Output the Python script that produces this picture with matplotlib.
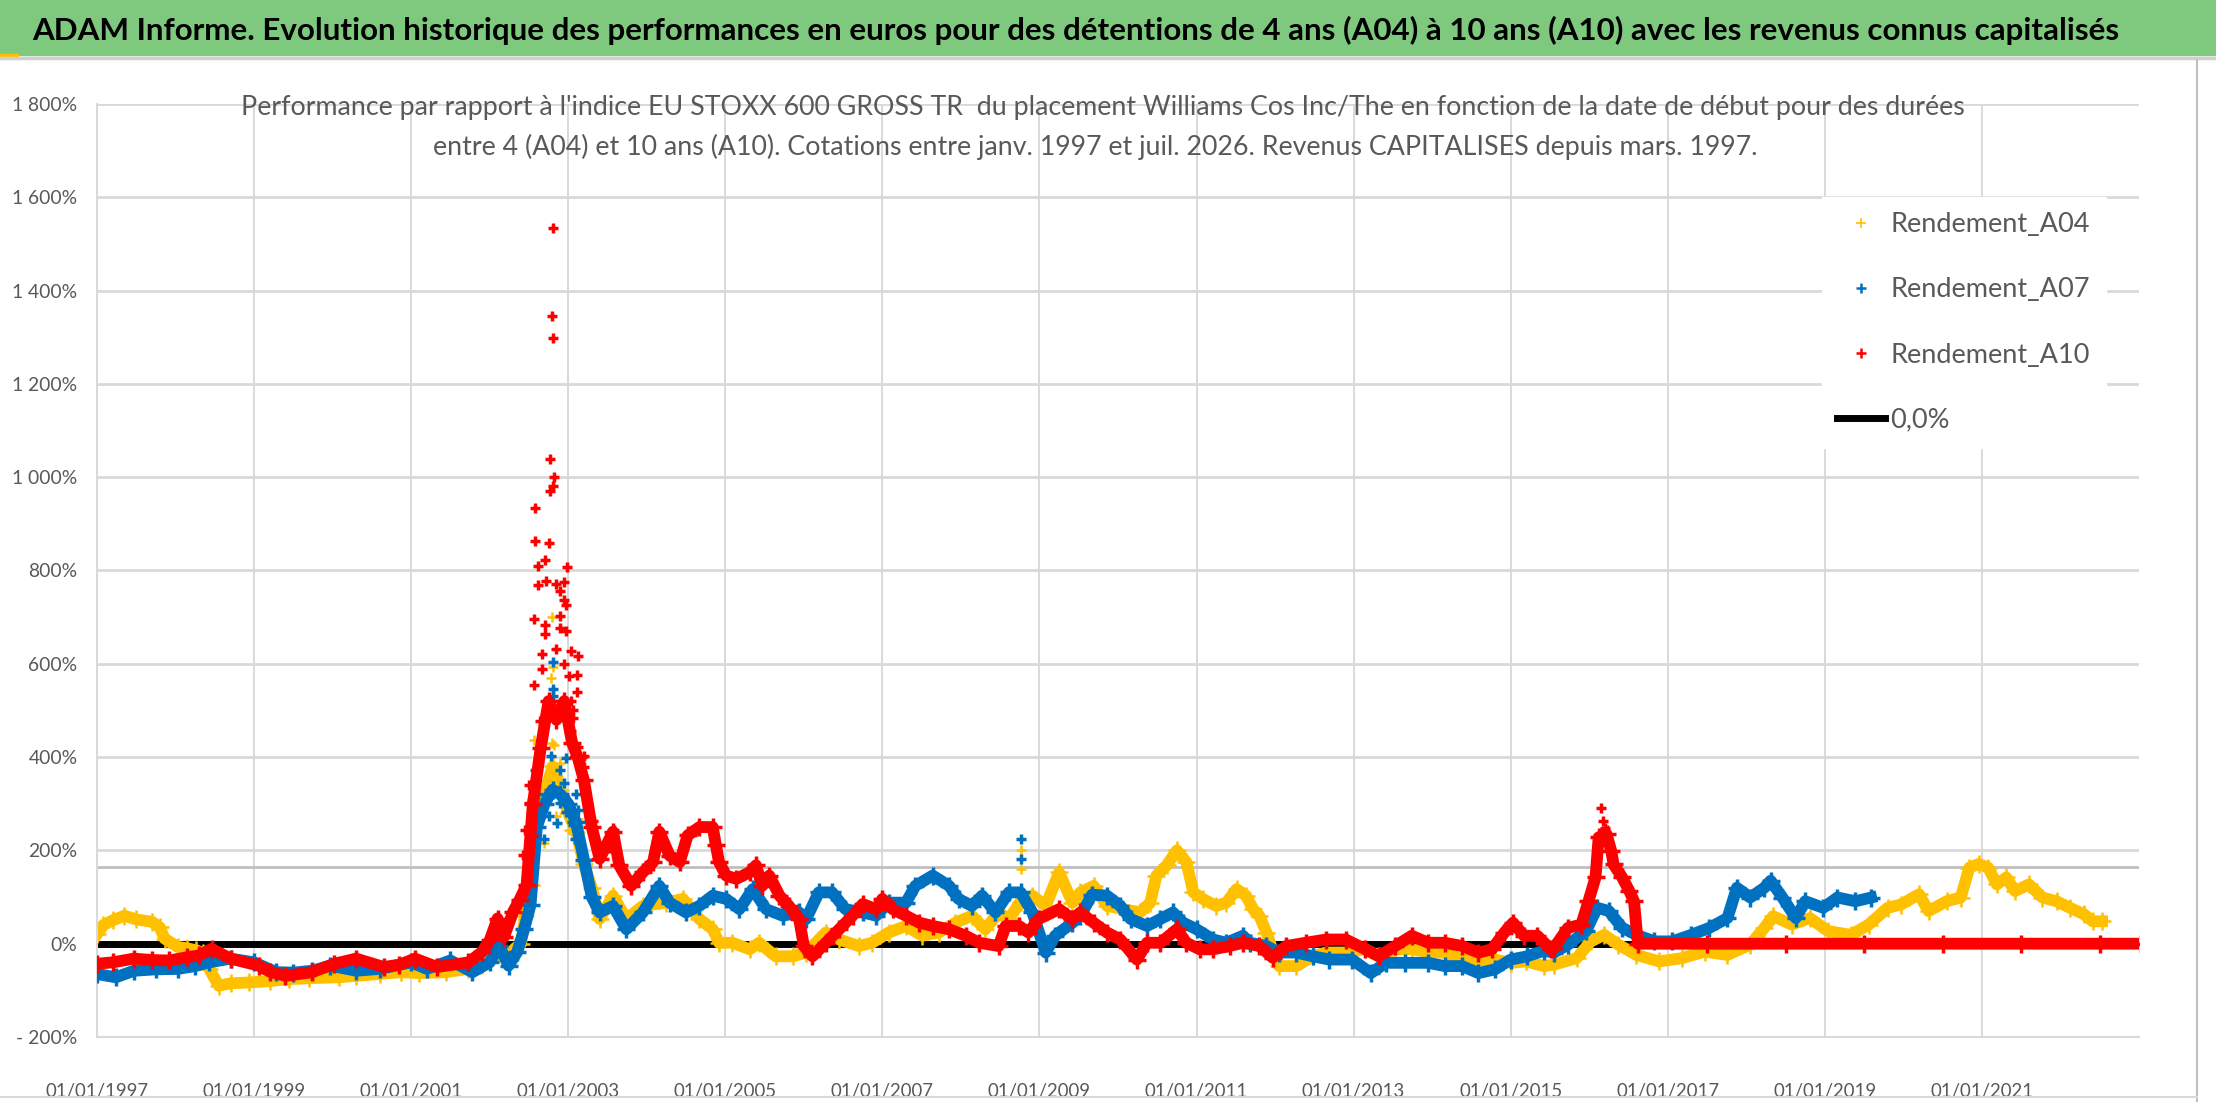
import matplotlib
matplotlib.use("Agg")
import matplotlib.pyplot as plt
from matplotlib.lines import Line2D
from matplotlib.patches import Rectangle
from matplotlib import font_manager

# ---- data (decimal years, % performance) ----
a04_t = [1997.00, 1997.08, 1997.20, 1997.35, 1997.50, 1997.70, 1997.80, 1997.86, 1998.03, 1998.15,
         1998.26, 1998.35, 1998.43, 1998.55, 1998.70, 1998.94, 1999.20, 1999.45, 1999.70, 2000.08,
         2000.30, 2000.60, 2000.87, 2001.10, 2001.44, 2001.73, 2001.90, 2002.00, 2002.12, 2002.24,
         2002.32, 2002.40, 2002.45, 2002.52, 2002.60, 2002.70, 2002.80, 2002.90, 2003.00, 2003.10,
         2003.20, 2003.30, 2003.40, 2003.57, 2003.74, 2003.95, 2004.25, 2004.46, 2004.67, 2004.84,
         2004.92, 2005.09, 2005.31, 2005.43, 2005.64, 2005.86, 2006.03, 2006.28, 2006.45, 2006.70,
         2006.87, 2007.08, 2007.30, 2007.51, 2007.72, 2007.93, 2008.14, 2008.31, 2008.48, 2008.61,
         2008.76, 2008.91, 2009.08, 2009.25, 2009.42, 2009.52, 2009.69, 2009.86, 2010.07, 2010.28,
         2010.41, 2010.49, 2010.62, 2010.75, 2010.87, 2010.96, 2011.08, 2011.25, 2011.38, 2011.51,
         2011.63, 2011.72, 2011.80, 2011.89, 2011.95, 2012.05, 2012.27, 2012.48, 2012.65, 2012.90,
         2013.15, 2013.32, 2013.53, 2013.74, 2013.99, 2014.16, 2014.38, 2014.59, 2014.80, 2015.00,
         2015.20, 2015.42, 2015.55, 2015.84, 2016.02, 2016.19, 2016.37, 2016.60, 2016.89, 2017.18,
         2017.47, 2017.76, 2018.05, 2018.23, 2018.34, 2018.58, 2018.81, 2019.04, 2019.33, 2019.56,
         2019.80, 2019.97, 2020.20, 2020.32, 2020.55, 2020.73, 2020.84, 2020.96, 2021.08, 2021.19,
         2021.31, 2021.42, 2021.60, 2021.77, 2021.95, 2022.12, 2022.30, 2022.41, 2022.53]
a04_v = [20, 40, 50, 60, 52, 47, 35, 11, -7, -10,
         -14, -20, -54, -90, -85, -83, -80, -76, -74, -72,
         -69, -65, -61, -63, -61, -54, -45, -32, -20, -25,
         -10, 0, 60, 126, 300, 320, 380, 330, 280, 240,
         170, 120, 53, 103, 53, 81, 88, 96, 53, 31,
         2, 2, -12, 2, -27, -27, -19, 24, 9, -5,
         2, 24, 38, 17, 24, 45, 60, 31, 67, 53,
         90, 103, 81, 153, 88, 110, 124, 81, 74, 67,
         88, 146, 168, 200, 175, 110, 96, 81, 88, 117,
         103, 74, 60, 24, -5, -48, -48, -27, -19, -19,
         -12, -27, -12, -12, -19, -19, -34, -37, -34, -41,
         -38, -48, -45, -31, 5, 19, -2, -24, -38, -31,
         -17, -24, -2, 34, 59, 41, 55, 27, 19, 41,
         77, 84, 106, 70, 91, 99, 163, 171, 163, 127,
         142, 113, 127, 99, 91, 77, 63, 48, 48]

a07_t = [1997.00, 1997.24, 1997.47, 1997.75, 1998.03, 1998.25, 1998.43, 1998.70, 1999.00, 1999.28,
         1999.50, 1999.74, 1999.97, 2000.30, 2000.60, 2001.00, 2001.20, 2001.50, 2001.78, 2002.00,
         2002.12, 2002.24, 2002.35, 2002.44, 2002.52, 2002.60, 2002.70, 2002.80, 2002.90, 2003.00,
         2003.10, 2003.20, 2003.30, 2003.40, 2003.57, 2003.74, 2003.95, 2004.16, 2004.29, 2004.50,
         2004.67, 2004.84, 2005.01, 2005.18, 2005.35, 2005.52, 2005.73, 2005.94, 2006.03, 2006.19,
         2006.36, 2006.53, 2006.75, 2006.92, 2007.08, 2007.30, 2007.42, 2007.64, 2007.85, 2007.97,
         2008.14, 2008.27, 2008.44, 2008.61, 2008.76, 2008.91, 2009.08, 2009.20, 2009.42, 2009.52,
         2009.67, 2009.86, 2010.03, 2010.16, 2010.37, 2010.54, 2010.70, 2010.83, 2011.00, 2011.21,
         2011.38, 2011.59, 2011.68, 2011.89, 2012.05, 2012.27, 2012.48, 2012.69, 2012.98, 2013.22,
         2013.41, 2013.66, 2013.95, 2014.16, 2014.38, 2014.59, 2014.80, 2015.00, 2015.21, 2015.42,
         2015.55, 2015.73, 2015.96, 2016.10, 2016.25, 2016.42, 2016.60, 2016.83, 2017.06, 2017.30,
         2017.53, 2017.76, 2017.88, 2018.05, 2018.23, 2018.31, 2018.46, 2018.63, 2018.75, 2018.98,
         2019.16, 2019.39, 2019.59]
a07_v = [-65, -72, -58, -55, -54, -48, -40, -32, -40, -61,
         -62, -58, -47, -58, -54, -40, -54, -36, -61, -40,
         -4, -47, -18, 32, 83, 250, 300, 330, 320, 300,
         260, 180, 100, 67, 81, 31, 67, 124, 88, 67,
         81, 103, 96, 74, 117, 74, 60, 67, 53, 110,
         110, 74, 67, 60, 88, 88, 124, 146, 124, 96,
         81, 103, 67, 110, 110, 67, -19, 17, 45, 60,
         105, 103, 81, 53, 38, 53, 67, 45, 31, 9,
         2, 17, 2, -5, -19, -19, -27, -34, -34, -63,
         -41, -41, -41, -48, -48, -63, -55, -34, -27, -15,
         -19, -2, 27, 77, 70, 34, 19, 5, 5, 19,
         34, 55, 120, 99, 120, 135, 99, 55, 91, 77,
         99, 91, 99]

a10_t = [1997.00, 1997.20, 1997.47, 1997.70, 1997.92, 1998.15, 1998.30, 1998.46, 1998.70, 1999.06,
         1999.20, 1999.40, 1999.74, 2000.02, 2000.30, 2000.65, 2000.85, 2001.05, 2001.33, 2001.73,
         2001.90, 2002.00, 2002.10, 2002.18, 2002.30, 2002.38, 2002.47, 2002.55, 2002.65, 2002.75,
         2002.85, 2002.95, 2003.05, 2003.12, 2003.20, 2003.30, 2003.40, 2003.57, 2003.65, 2003.80,
         2003.95, 2004.08, 2004.16, 2004.29, 2004.42, 2004.52, 2004.67, 2004.84, 2004.88, 2004.92,
         2005.01, 2005.14, 2005.31, 2005.39, 2005.47, 2005.56, 2005.69, 2005.81, 2005.94, 2006.00,
         2006.11, 2006.28, 2006.45, 2006.62, 2006.75, 2006.92, 2007.00, 2007.13, 2007.30, 2007.47,
         2007.64, 2007.85, 2008.06, 2008.23, 2008.48, 2008.57, 2008.74, 2008.86, 2008.99, 2009.25,
         2009.42, 2009.52, 2009.69, 2009.86, 2010.03, 2010.24, 2010.37, 2010.54, 2010.75, 2010.87,
         2011.04, 2011.21, 2011.42, 2011.59, 2011.80, 2011.97, 2012.14, 2012.39, 2012.65, 2012.90,
         2013.15, 2013.32, 2013.53, 2013.74, 2013.95, 2014.16, 2014.38, 2014.59, 2014.76, 2014.92,
         2015.03, 2015.17, 2015.34, 2015.51, 2015.55, 2015.73, 2015.90, 2015.99, 2016.08, 2016.12,
         2016.22, 2016.28, 2016.31, 2016.42, 2016.51, 2016.57, 2016.62, 2017.50, 2018.50, 2019.50,
         2020.50, 2021.50, 2022.50, 2023.02]
a10_v = [-43, -40, -32, -35, -36, -29, -25, -11, -32, -47,
         -60, -69, -61, -43, -32, -50, -45, -32, -50, -40,
         -18, 7, 54, 14, 69, 94, 126, 300, 420, 520,
         480, 520, 430, 400, 350, 250, 182, 240, 168, 124,
         153, 175, 240, 189, 175, 232, 250, 250, 211, 175,
         146, 139, 153, 168, 124, 146, 103, 81, 53, -5,
         -27, 2, 31, 60, 85, 74, 96, 74, 60, 45,
         38, 31, 17, 2, -5, 38, 38, 24, 53, 74,
         53, 67, 45, 24, 9, -34, 2, 2, 31, 2,
         -12, -12, -5, 2, -5, -30, -5, 2, 9, 9,
         -12, -27, -5, 17, 2, 2, -5, -19, -12, 24,
         45, 17, 17, -12, -9, 34, 41, 91, 142, 228,
         235, 199, 170, 142, 113, 91, 0, 0, 0, 0,
         0, 0, 0, 0]

# scattered points around the 2002-2003 spike and other isolated outliers
a04_out_t = [2002.79, 2002.80, 2002.78, 2002.57, 2002.79, 2002.82, 2002.61, 2002.89, 2002.72, 2002.87,
             2002.65, 2002.84, 2003.12, 2003.01, 2002.69, 2008.76, 2008.76]
a04_out_v = [701, 593, 569, 437, 430, 426, 397, 387, 349, 359,
             282, 273, 268, 244, 215, 200, 160]
a07_out_t = [2002.80, 2002.80, 2002.80, 2002.78, 2002.97, 2002.58, 2002.89, 2002.61, 2002.74, 2002.95,
             2002.89, 2003.10, 2003.12, 2002.64, 2002.76, 2002.97, 2002.86, 2003.06, 2002.69, 2003.08,
             2002.59, 2008.76, 2008.76]
a07_out_v = [603, 545, 531, 402, 397, 373, 373, 320, 320, 344,
             302, 320, 287, 273, 273, 282, 258, 254, 225, 225,
             244, 225, 182]
a10_out_t = [2002.80, 2002.79, 2002.81, 2002.77, 2002.82, 2002.80, 2002.77, 2002.58, 2002.58, 2002.76,
             2002.71, 2002.61, 2002.98, 2002.62, 2002.72, 2002.85, 2002.95, 2002.89, 2002.95, 2002.97,
             2002.57, 2002.89, 2002.70, 2002.89, 2002.97, 2002.71, 2002.84, 2002.67, 2003.03, 2003.12,
             2002.66, 2002.95, 2003.01, 2003.11, 2002.57, 2003.11, 2003.03, 2003.06, 2003.06, 2002.64,
             2003.04, 2003.08, 2003.13, 2003.20, 2003.20, 2003.20, 2003.23, 2002.50, 2002.50, 2002.52,
             2002.45, 2002.55, 2003.31, 2003.33, 2003.58, 2003.52, 2002.42, 2016.15, 2016.18, 2016.20]
a10_out_v = [1534, 1346, 1298, 1040, 1000, 981, 970, 933, 864, 858,
             823, 809, 807, 768, 778, 770, 775, 756, 737, 727,
             696, 703, 684, 676, 670, 663, 631, 622, 627, 617,
             588, 600, 574, 577, 555, 539, 521, 502, 483, 478,
             456, 426, 421, 402, 378, 349, 320, 340, 302, 273,
             244, 230, 263, 225, 244, 206, 191, 290, 262, 248]

ref_level = 164  # grey horizontal reference line
years = list(range(1997, 2023, 2))
tick_labels = ["01/01/%d" % y for y in years]
y_ticks = list(range(-200, 1801, 200))
y_labels = ["- 200%", "0%", "200%", "400%", "600%", "800%", "1 000%",
            "1 200%", "1 400%", "1 600%", "1 800%"]
labels = ["Rendement_A04", "Rendement_A07", "Rendement_A10", "0,0%"]
colors = ["#FFC000", "#0070C0", "#FF0000"]

title = ("ADAM Informe. Evolution historique des performances en euros pour des détentions "
         "de 4 ans (A04) à 10 ans (A10) avec les revenus connus capitalisés")
subtitle1 = ("Performance par rapport à l'indice EU STOXX 600 GROSS TR  du placement Williams Cos "
             "Inc/The en fonction de la date de début pour des durées")
subtitle2 = ("entre 4 (A04) et 10 ans (A10). Cotations entre janv. 1997 et juil. 2026. "
             "Revenus CAPITALISES depuis mars. 1997.")

# ---- fonts ----
avail = {f.name for f in font_manager.fontManager.ttflist}
FONT = "Lato" if "Lato" in avail else "Liberation Sans"
plt.rcParams["font.family"] = [FONT, "DejaVu Sans"]

W, H = 2216, 1102
fig = plt.figure(figsize=(W / 100, H / 100), dpi=100)
renderer = fig.canvas.get_renderer()


def size_for(text, width_px, **kw):
    t = fig.text(0, 0, text, fontsize=20, **kw)
    w = t.get_window_extent(renderer).width
    t.remove()
    return 20 * width_px / w


def fx(px):
    return px / W


def fy(px):
    return 1 - px / H


# green header band and frame bits
fig.patches.append(Rectangle((0, fy(55)), 1, 1 - fy(55), transform=fig.transFigure,
                             color="#7FC97F", zorder=0))
fig.add_artist(Line2D([0, 1], [fy(58), fy(58)], color="#D0D0D0", lw=2.5))
fig.patches.append(Rectangle((0, fy(58)), fx(18), fy(54) - fy(58), transform=fig.transFigure,
                             color="#FFC000", zorder=1))
fig.add_artist(Line2D([fx(2197), fx(2197)], [0, fy(60)], color="#BFBFBF", lw=1.5))
fig.add_artist(Line2D([0, fx(2197)], [fy(1097), fy(1097)], color="#D9D9D9", lw=1.5))

fig.text(fx(1076), fy(30), title, ha="center", va="center", fontweight="bold", color="black",
         fontsize=size_for(title, 2090, fontweight="bold"))

sub_size = size_for(subtitle1, 1721)
fig.text(fx(1103), fy(107), subtitle1, ha="center", va="center", color="#595959", fontsize=sub_size)
fig.text(fx(1095), fy(147), subtitle2, ha="center", va="center", color="#595959", fontsize=sub_size)

# ---- axes ----
ax = fig.add_axes([fx(97), 1 - 1037 / H, fx(2139) - fx(97), (1037 - 104) / H])
ax.set_xlim(1997, 2023)
ax.set_ylim(-200, 1800)
for s in ["top", "right"]:
    ax.spines[s].set_visible(False)
for s in ["left", "bottom"]:
    ax.spines[s].set_color("#D9D9D9")
    ax.spines[s].set_linewidth(1.5)

for yv in y_ticks[1:]:
    ax.axhline(yv, color="#D9D9D9", lw=2.0, zorder=0)
for yr in years[1:]:
    ax.axvline(yr, color="#D9D9D9", lw=1.4, zorder=0)
ax.axhline(ref_level, color="#BFBFBF", lw=2.0, zorder=0.5)

ax.axhline(0, color="black", lw=5, zorder=1)

series = [(a04_t, a04_v, a04_out_t, a04_out_v, 1.8),
          (a07_t, a07_v, a07_out_t, a07_out_v, 2.5),
          (a10_t, a10_v, a10_out_t, a10_out_v, 2.5)]
for i, (t, v, ot, ov, mew) in enumerate(series):
    ax.plot(t, v, color=colors[i], lw=8.5, marker="+", ms=13, mew=mew, zorder=2 + i)
    ax.plot(ot, ov, ls="none", color=colors[i], marker="+", ms=7, mew=mew, zorder=2 + i)

ax.set_xticks(years)
ax.set_xticklabels(tick_labels, fontsize=size_for(tick_labels[0], 103), color="#595959")
ax.set_yticks(y_ticks)
ax.set_yticklabels(y_labels, fontsize=size_for(y_labels[0], 61), color="#595959")
ax.tick_params(axis="both", length=0)
ax.tick_params(axis="x", pad=33)
ax.tick_params(axis="y", pad=14)

leg_size = size_for(labels[0], 200)
f_px = leg_size * 100 / 72
handles = [Line2D([], [], ls="none", marker="+", color=colors[0], ms=7, mew=1.2),
           Line2D([], [], ls="none", marker="+", color=colors[1], ms=7, mew=1.8),
           Line2D([], [], ls="none", marker="+", color=colors[2], ms=7, mew=1.8),
           Line2D([], [], color="black", lw=5)]
leg = ax.legend(handles, labels, loc="upper left",
                bbox_to_anchor=((1808 - 97) / 2042, (1037 - 183) / 933),
                fontsize=leg_size, frameon=True, fancybox=False, framealpha=1,
                edgecolor="white", labelcolor="#595959", handlelength=48 / f_px,
                handletextpad=5 / f_px, labelspacing=74 / f_px - 1.25,
                borderpad=(32 - 0.6 * f_px) / f_px)
leg.set_zorder(10)

fig.savefig("out.png", dpi=100)
